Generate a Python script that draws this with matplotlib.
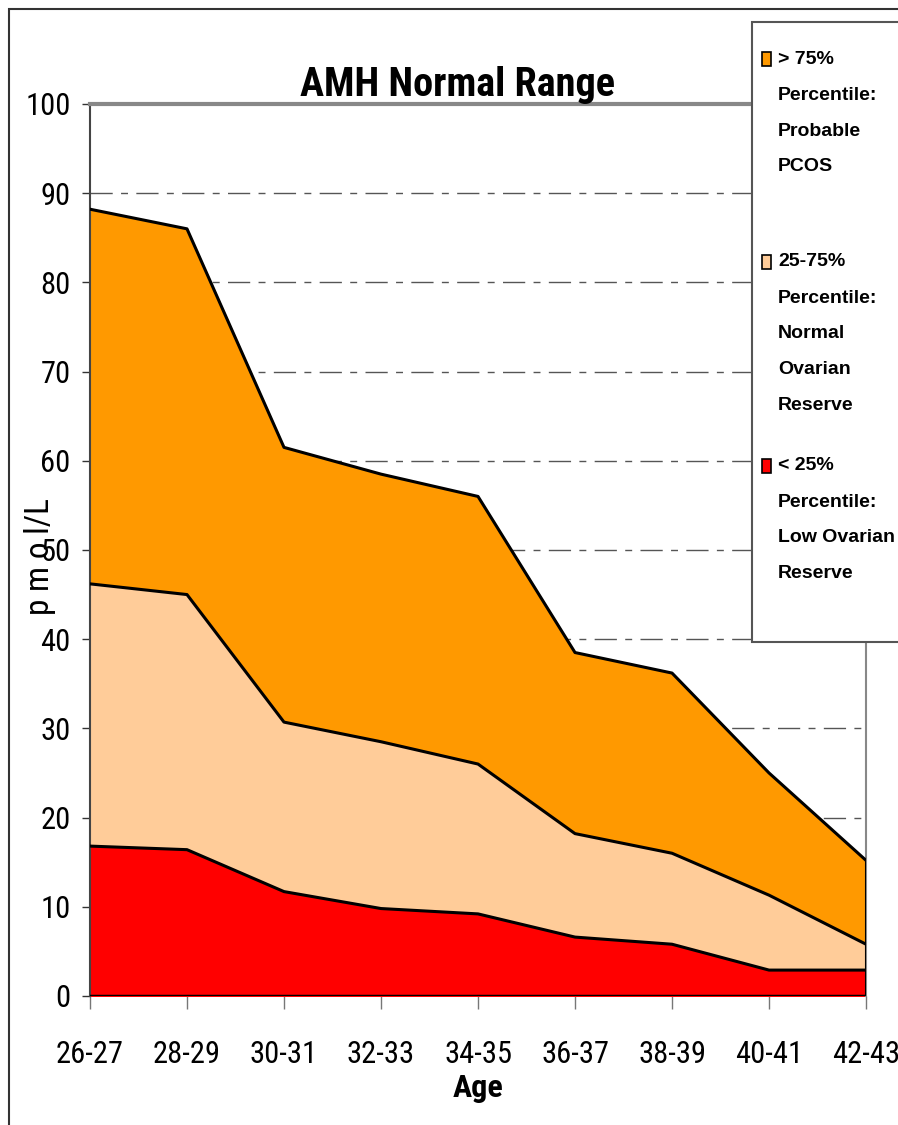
import matplotlib.pyplot as plt
from matplotlib import font_manager
from matplotlib.patches import Rectangle

ages = ["26-27", "28-29", "30-31", "32-33", "34-35", "36-37", "38-39", "40-41", "42-43"]
p_high = [88.2, 86.0, 61.5, 58.5, 56.0, 38.5, 36.2, 25.0, 15.2]
p_mid = [46.2, 45.0, 30.7, 28.5, 26.0, 18.2, 16.0, 11.3, 5.8]
p_low = [16.8, 16.4, 11.7, 9.8, 9.2, 6.6, 5.8, 2.9, 2.9]

c_high = "#ff9900"
c_mid = "#ffcc99"
c_low = "#ff0000"

# look for a narrow sans font (the original uses Arial Narrow style text)
names = {f.name for f in font_manager.fontManager.ttflist}
narrow = None
stretch = 'normal'
for n in ['Liberation Sans Narrow', 'Arial Narrow', 'DejaVu Sans Condensed', 'Roboto Condensed',
          'Open Sans Condensed', 'Noto Sans Condensed']:
    if n in names:
        narrow = n
        break
if narrow is None:
    for f in font_manager.fontManager.ttflist:
        if f.name == 'DejaVu Sans' and f.stretch in ('condensed', 'semi-condensed'):
            narrow, stretch = 'DejaVu Sans', 'condensed'
            break
if narrow is None:
    narrow = 'Liberation Sans'

plt.rcParams['font.family'] = [narrow, 'Liberation Sans', 'DejaVu Sans']
plt.rcParams['font.stretch'] = stretch

fig = plt.figure(figsize=(8.98, 11.25), dpi=100)
ax = fig.add_axes([0.1002, 0.1147, 0.8642, 0.7929])

x = list(range(len(ages)))
for vals, col in [(p_high, c_high), (p_mid, c_mid), (p_low, c_low)]:
    ax.fill_between(x, 0, vals, color=col, zorder=2)
    ax.plot(x, vals, color="black", lw=2.2, zorder=3)
ax.plot([x[-1], x[-1]], [0, p_high[-1]], color="black", lw=2.2, zorder=3)
ax.plot([x[0], x[-1]], [0, 0], color="black", lw=2.5, zorder=3)

ax.set_xlim(0, len(ages) - 1)
ax.set_ylim(0, 100)
ax.set_yticks(range(0, 101, 10))
ax.set_xticks(x)
ax.set_xticklabels(ages, fontsize=22)
ax.tick_params(axis='y', labelsize=22, length=6, width=1, color="#333333", pad=8)
ax.tick_params(axis='x', length=9.5, width=1, color="#777777", pad=22)

for yv in range(10, 100, 10):
    ax.axhline(yv, color="#555555", lw=1, ls=(0, (16, 6, 5, 6)), zorder=1)

ax.spines['left'].set_color("#444444")
ax.spines['left'].set_linewidth(1.5)
ax.spines['top'].set_color("#888888")
ax.spines['top'].set_linewidth(3)
ax.spines['right'].set_color("#888888")
ax.spines['right'].set_linewidth(1.5)
ax.spines['bottom'].set_visible(False)

ax.set_title("AMH Normal Range", fontsize=29, fontweight='bold', pad=4, x=0.474)
ax.set_xlabel("Age", fontsize=23, fontweight='bold', labelpad=3)
fig.text(0.045, 0.505, "p m o l/L", rotation=90, fontsize=24, ha='center', va='center')

# outer frame
fig.patches.append(Rectangle((9 / 898, -0.1), 1.2, 1 - 9 / 1125 + 0.1, transform=fig.transFigure,
                             fill=False, edgecolor="#333333", lw=1.5, zorder=0))

# legend box
fig.patches.append(Rectangle((752 / 898, 1 - 642 / 1125), 0.3, (642 - 22) / 1125,
                             transform=fig.transFigure, facecolor="white",
                             edgecolor="#555555", lw=1.5, zorder=5))

legend_items = [
    (c_high, ["> 75%", "Percentile:", "Probable", "PCOS"], 59),
    (c_mid, ["25-75%", "Percentile:", "Normal", "Ovarian", "Reserve"], 262),
    (c_low, ["< 25%", "Percentile:", "Low Ovarian", "Reserve"], 466),
]
for col, lines, ytop in legend_items:
    fig.patches.append(Rectangle((762 / 898, 1 - (ytop + 7) / 1125), 9 / 898, 14 / 1125,
                                 transform=fig.transFigure, facecolor=col,
                                 edgecolor="black", lw=1.2, zorder=6))
    for i, line in enumerate(lines):
        fig.text(778 / 898, 1 - (ytop + 36 * i) / 1125, line, fontsize=14,
                 fontweight='bold', ha='left', va='center', zorder=7,
                 family=['Liberation Sans', 'DejaVu Sans'], stretch='normal')

fig.savefig("out.png", dpi=100)
